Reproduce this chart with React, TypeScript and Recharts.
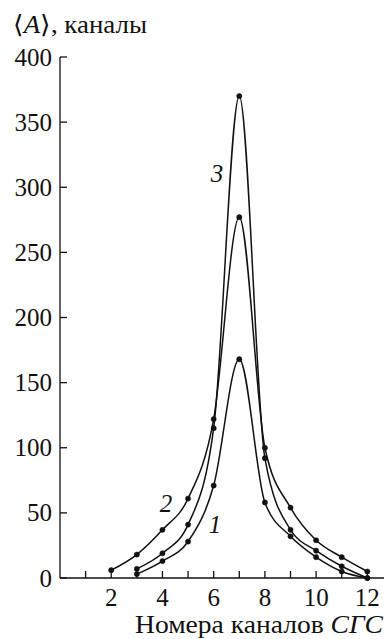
import React from "react";
import { LineChart, Line, XAxis, YAxis, Customized } from "recharts";

const channels = [2, 3, 4, 5, 6, 7, 8, 9, 10, 11, 12];
const curve1 = [null, 3, 13, 28, 71, 168, 58, 32, 16, 5, 0];
const curve2 = [6, 18, 37, 61, 122, 277, 100, 54, 29, 16, 5];
const curve3 = [null, 7, 19, 41, 115, 370, 92, 37, 21, 9, 0];
const xTicks = [1, 2, 3, 4, 5, 6, 7, 8, 9, 10, 11, 12];
const yTicks = [0, 50, 100, 150, 200, 250, 300, 350, 400];

const data = channels.map((x, i) => ({ x, c1: curve1[i], c2: curve2[i], c3: curve3[i] }));

const FONT = '"Liberation Serif"';
const ts: React.CSSProperties = { fontFamily: FONT, fontSize: 25 };
const ls: React.CSSProperties = { fontFamily: FONT, fontSize: 25 };

const XTick = (props: any) => {
  const { x, y, payload } = props;
  const v = payload.value;
  return (
    <g>
      <line x1={x} y1={y} x2={x} y2={y - 7} stroke="#111" strokeWidth={1.3} />
      {v % 2 === 0 ? (
        <text x={x} y={y + 28} textAnchor="middle" style={ts} fill="#111">
          {v}
        </text>
      ) : null}
    </g>
  );
};

const YTick = (props: any) => {
  const { x, y, payload } = props;
  return (
    <g>
      <line x1={x} y1={y} x2={x + 7} y2={y} stroke="#111" strokeWidth={1.3} />
      <text x={x - 8} y={y + 8.5} textAnchor="end" style={ts} fill="#111">
        {payload.value}
      </text>
    </g>
  );
};

const Annotations = () => (
  <g fill="#111">
    <text x={13} y={33} style={ls} textLength={134} lengthAdjust="spacingAndGlyphs">
      {"\u27E8"}
      <tspan style={{ fontStyle: "italic" }}>A</tspan>
      {"\u27E9, каналы"}
    </text>
    <text x={135} y={633} style={ls} textLength={248} lengthAdjust="spacingAndGlyphs">
      {"Номера каналов "}
      <tspan style={{ fontStyle: "italic" }}>СГС</tspan>
    </text>
    <text x={217} y={182} textAnchor="middle" style={{ ...ls, fontStyle: "italic" }}>3</text>
    <text x={166} y={512} textAnchor="middle" style={{ ...ls, fontStyle: "italic" }}>2</text>
    <text x={215} y={533} textAnchor="middle" style={{ ...ls, fontStyle: "italic" }}>1</text>
  </g>
);

const dot = { r: 2.6, fill: "#111", stroke: "#111", strokeWidth: 0.5 };

export default function App() {
  return (
    <div style={{ position: "absolute", left: 0, top: 0, background: "#fff" }}>
      <LineChart width={384} height={639} data={data} margin={{ top: 57, right: 0, bottom: 0, left: 0 }}>
        <XAxis
          dataKey="x"
          type="number"
          domain={[0, 12.65]}
          ticks={xTicks}
          interval={0}
          height={61}
          tickSize={0}
          tickMargin={0}
          tickLine={false}
          tick={<XTick />}
          axisLine={{ stroke: "#111", strokeWidth: 1.3 }}
          allowDataOverflow
        />
        <YAxis
          type="number"
          domain={[0, 400]}
          ticks={yTicks}
          interval={0}
          width={60}
          tickSize={0}
          tickMargin={0}
          tickLine={false}
          tick={<YTick />}
          axisLine={{ stroke: "#111", strokeWidth: 1.3 }}
        />
        <Line dataKey="c1" type="monotone" stroke="#111" strokeWidth={1.5} dot={dot} activeDot={false} isAnimationActive={false} />
        <Line dataKey="c2" type="monotone" stroke="#111" strokeWidth={1.5} dot={dot} activeDot={false} isAnimationActive={false} />
        <Line dataKey="c3" type="monotone" stroke="#111" strokeWidth={1.5} dot={dot} activeDot={false} isAnimationActive={false} />
        <Customized component={Annotations} />
      </LineChart>
    </div>
  );
}
